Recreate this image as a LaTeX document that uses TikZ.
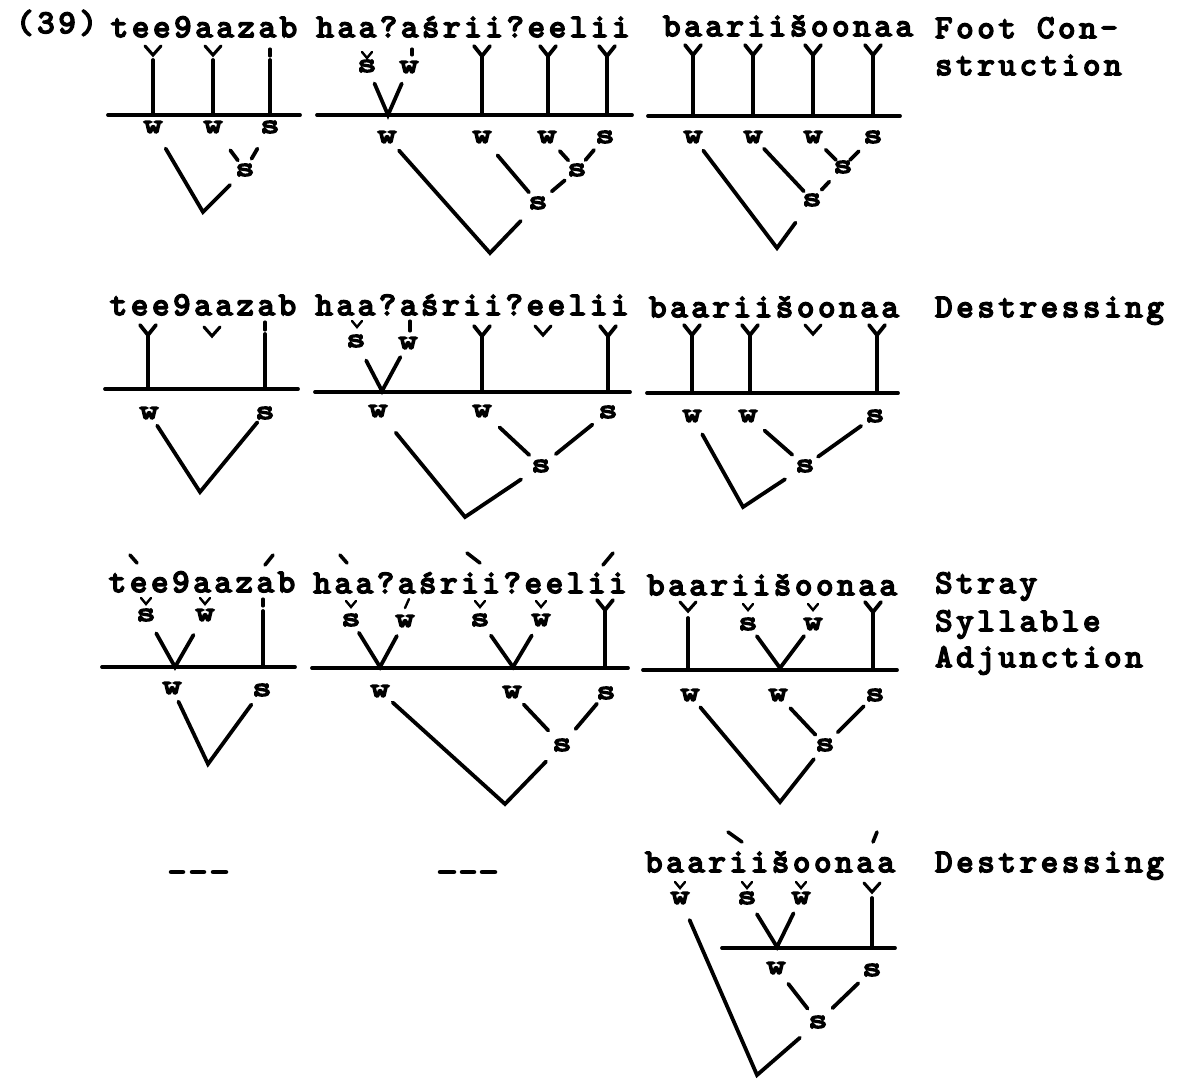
\documentclass[tikz,border=0pt]{standalone}
\usepackage{fontspec}
\newfontfamily\tw{lmmono10-regular.otf}[LetterSpace=11.5, FakeBold=5]
\newfontfamily\tl{lmmono10-regular.otf}[FakeBold=6, FakeStretch=1.35]
\newcommand\Ymk[3]{\draw[lnst] (#1-8,#2) -- (#1,#2+10) -- (#1+8,#2) (#1,#2+10) -- (#1,#3);}
\newcommand\Vmk[2]{\draw[mkst] (#1-8,#2) -- (#1,#2+9) -- (#1+8,#2);}
\newcommand\Cmk[2]{\draw[cvst] (#1-5,#2-3) -- (#1,#2+3) -- (#1+5,#2-3);}
\newcommand\Tmk[3]{\draw[mkst] (#1,#2) -- (#1,#3);}
\newcommand\Lmk[3]{\draw[lnst] (#1,#2) -- (#1,#3);}
\begin{document}
\begin{tikzpicture}[x=1pt,y=-1pt,
  lnst/.style={line width=3.8pt, line cap=round, line join=miter},
  mkst/.style={line width=3.1pt, line cap=round},
  cvst/.style={line width=2.4pt, line cap=round},
  accst/.style={line width=3.6pt, line cap=round},
  sh/.style 2 args={shorten <=#1pt, shorten >=#2pt},
  labst/.style={font={\tl\fontsize{27}{30}\selectfont}, inner sep=0pt},
  wrd/.style={font={\tw\fontsize{33}{38}\selectfont}, inner sep=0pt, anchor=base},
  side/.style={font={\tw\fontsize{33}{38}\selectfont}, inner sep=0pt, anchor=base west}]
\fill[white] (0,0) rectangle (1182,1080);
\useasboundingbox (0,0) rectangle (1182,1080);

% ---------------- Row 1: Foot Construction ----------------
\node[side] (n39) at (16,33) {(39)};
\node[wrd] (w1a) at (204,37) {tee9aazab};
\node[wrd] (w1b) at (473,37) {haa?aśrii?eelii};
\node[wrd] (w1c) at (788,36) {baariišoonaa};
\node[side] (fc1) at (935,38) {Foot Con-};
\node[side] (fc2) at (935,75) {struction};

% tree 1a
\Vmk{153}{46}\Vmk{213}{46}\Tmk{270}{49}{56}
\Lmk{153}{60}{115}\Lmk{213}{60}{115}\Lmk{270}{60}{115}
\draw[lnst] (108,115) -- (300,115);
\node[labst] (A1) at (153,127) {w};
\node[labst] (A2) at (213,127) {w};
\node[labst] (A3) at (270,127) {s};
\node[labst] (AP) at (245,170) {s};
\coordinate (AR) at (203,212);
\draw[lnst,sh={25}{21}] (A1.center) -- (AR) -- (AP.center);
\draw[lnst,sh={29}{12}] (A2.center) -- (AP.center);
\draw[lnst,sh={25}{13}] (A3.center) -- (AP.center);

% tree 1b
\node[labst] (B0s) at (367,66) {s}; \Cmk{367}{55}
\node[labst] (B0w) at (409,67) {w}; \Tmk{412}{49}{55}
\coordinate (BJ) at (388,115);
\draw[lnst,sh={19}{18}] (B0s.center) -- (BJ) -- (B0w.center);
\Ymk{482}{46}{115}\Ymk{548}{46}{115}\Ymk{607}{46}{115}
\draw[lnst] (317,115) -- (632,115);
\node[labst] (B1) at (387,137) {w};
\node[labst] (B2) at (482,137) {w};
\node[labst] (B3) at (547,137) {w};
\node[labst] (B4) at (605,137) {s};
\node[labst] (BQ1) at (577,170) {s};
\node[labst] (BQ2) at (538,203) {s};
\coordinate (BR) at (490,253);
\draw[lnst,sh={18}{25}] (B1.center) -- (BR) -- (BQ2.center);
\draw[lnst,sh={24}{14}] (B2.center) -- (BQ2.center);
\draw[lnst,sh={19}{13}] (B3.center) -- (BQ1.center);
\draw[lnst,sh={17}{13}] (B4.center) -- (BQ1.center);
\draw[lnst,sh={16}{18}] (BQ1.center) -- (BQ2.center);

% tree 1c
\Ymk{693}{45}{116}\Ymk{753}{45}{116}\Ymk{813}{45}{116}\Ymk{873}{45}{116}
\draw[lnst] (648,116) -- (900,116);
\node[labst] (C1) at (693,137) {w};
\node[labst] (C2) at (753,137) {w};
\node[labst] (C3) at (813,137) {w};
\node[labst] (C4) at (873,137) {s};
\node[labst] (CQ1) at (843,167) {s};
\node[labst] (CQ2) at (812,200) {s};
\coordinate (CR) at (777,248);
\draw[lnst,sh={17}{28}] (C1.center) -- (CR) -- (CQ2.center);
\draw[lnst,sh={16}{12}] (C2.center) -- (CQ2.center);
\draw[lnst,sh={18}{10}] (C3.center) -- (CQ1.center);
\draw[lnst,sh={20}{10}] (C4.center) -- (CQ1.center);
\draw[lnst,sh={20}{14}] (CQ1.center) -- (CQ2.center);

% ---------------- Row 2: Destressing ----------------
\node[wrd] (w2a) at (203,315) {tee9aazab};
\node[wrd] (w2b) at (472,315) {haa?aśrii?eelii};
\node[wrd] (w2c) at (774,317) {baariišoonaa};
\node[side] (ds1) at (935,317) {Destressing};

% tree 2a
\Ymk{148}{325}{389}\Vmk{212}{327}\Tmk{265}{322}{330}\Lmk{265}{334}{389}
\draw[lnst] (105,389) -- (298,389);
\node[labst] (D1) at (149,413) {w};
\node[labst] (D2) at (265,413) {s};
\coordinate (DR) at (200,492);
\draw[lnst,sh={15}{12}] (D1.center) -- (DR) -- (D2.center);

% tree 2b
\node[labst] (E0s) at (356,341) {s}; \Cmk{357}{324}
\node[labst] (E0w) at (408,343) {w}; \Tmk{410}{321}{331}
\coordinate (EJ) at (382,391);
\draw[lnst,sh={22}{16}] (E0s.center) -- (EJ) -- (E0w.center);
\Ymk{482}{326}{391}\Vmk{543}{326}\Ymk{608}{326}{391}
\draw[lnst] (315,392) -- (630,392);
\node[labst] (E1) at (378,411) {w};
\node[labst] (E2) at (482,411) {w};
\node[labst] (E3) at (608,412) {s};
\node[labst] (EQ) at (541,466) {s};
\coordinate (ER) at (465,517);
\draw[lnst,sh={28}{24}] (E1.center) -- (ER) -- (EQ.center);
\draw[lnst,sh={24}{16}] (E2.center) -- (EQ.center);
\draw[lnst,sh={20}{19}] (E3.center) -- (EQ.center);

% tree 2c
\Ymk{692}{325}{392}\Ymk{750}{325}{392}\Vmk{813}{325}\Ymk{877}{325}{392}
\draw[lnst] (647,393) -- (898,393);
\node[labst] (G1) at (692,416) {w};
\node[labst] (G2) at (748,416) {w};
\node[labst] (G3) at (875,416) {s};
\node[labst] (GQ) at (805,466) {s};
\coordinate (GR) at (743,507);
\draw[lnst,sh={21}{24}] (G1.center) -- (GR) -- (GQ.center);
\draw[lnst,sh={22}{17}] (G2.center) -- (GQ.center);
\draw[lnst,sh={17}{16}] (G3.center) -- (GQ.center);

% ---------------- Row 3: Stray Syllable Adjunction ----------------
\node[wrd] (w3a) at (202,592) {tee9aazab};
\node[wrd] (w3b) at (470,593) {haa?aśrii?eelii};
\node[wrd] (w3c) at (772,595) {baariišoonaa};
\node[side] (ss1) at (935,593) {Stray};
\node[side] (ss2) at (935,631) {Syllable};
\node[side] (ss3) at (935,667) {Adjunction};
\draw[accst] (130,555) -- (137,563);
\draw[accst] (273,555) -- (265,565);
\draw[accst] (340,555) -- (347,563);
\draw[accst] (467,553) -- (480,563);
\draw[accst] (613,553) -- (603,565);

% tree 3a
\node[labst] (H0s) at (146,615) {s}; \Cmk{146}{601}
\node[labst] (H0w) at (205,615) {w}; \Cmk{205}{601}
\coordinate (HJ) at (175,667);
\draw[lnst,sh={21}{23}] (H0s.center) -- (HJ) -- (H0w.center);
\Tmk{263}{599}{606}\Lmk{263}{611}{667}
\draw[lnst] (102,667) -- (295,667);
\node[labst] (H1) at (172,688) {w};
\node[labst] (H2) at (262,690) {s};
\coordinate (HR) at (208,764);
\draw[lnst,sh={15}{18}] (H1.center) -- (HR) -- (H2.center);

% tree 3b
\node[labst] (I0a) at (351,620) {s}; \Cmk{351}{604}
\node[labst] (I0b) at (405,621) {w}; \draw[cvst] (409,599) -- (405,608);
\node[labst] (I0c) at (480,620) {s}; \Cmk{480}{604}
\node[labst] (I0d) at (541,620) {w}; \Cmk{541}{604}
\coordinate (IJ1) at (380,667);
\coordinate (IJ2) at (513,667);
\draw[lnst,sh={15}{17}] (I0a.center) -- (IJ1) -- (I0b.center);
\draw[lnst,sh={19}{18}] (I0c.center) -- (IJ2) -- (I0d.center);
\Ymk{605}{600}{668}
\draw[lnst] (312,668) -- (628,668);
\node[labst] (I1) at (380,691) {w};
\node[labst] (I2) at (512,692) {w};
\node[labst] (I3) at (606,693) {s};
\node[labst] (IQ) at (562,745) {s};
\coordinate (IR) at (505,804);
\draw[lnst,sh={17}{23}] (I1.center) -- (IR) -- (IQ.center);
\draw[lnst,sh={17}{20}] (I2.center) -- (IQ.center);
\draw[lnst,sh={14}{21}] (I3.center) -- (IQ.center);

% tree 3c
\Vmk{688}{602}\Lmk{688}{618}{668}
\node[labst] (K0s) at (748,624) {s}; \Cmk{748}{607}
\node[labst] (K0w) at (813,624) {w}; \Cmk{813}{607}
\coordinate (KJ) at (780,668);
\draw[lnst,sh={15}{15}] (K0s.center) -- (KJ) -- (K0w.center);
\Ymk{873}{602}{668}
\draw[lnst] (643,670) -- (897,670);
\node[labst] (K1) at (690,695) {w};
\node[labst] (K2) at (778,695) {w};
\node[labst] (K3) at (875,695) {s};
\node[labst] (KQ) at (825,745) {s};
\coordinate (KR) at (780,802);
\draw[lnst,sh={16}{18}] (K1.center) -- (KR) -- (KQ.center);
\draw[lnst,sh={18}{14}] (K2.center) -- (KQ.center);
\draw[lnst,sh={16}{18}] (K3.center) -- (KQ.center);

% ---------------- Row 4: Destressing ----------------
\draw[lnst, line width=4.5pt] (171,872) -- (183,872) (192,872) -- (204,872) (213,872) -- (226,872);
\draw[lnst, line width=4.5pt] (440,872) -- (454,872) (462,872) -- (474,872) (482,872) -- (495,872);
\node[wrd] (w4c) at (770,872) {baariišoonaa};
\node[side] (ds2) at (935,872) {Destressing};
\draw[accst] (728,832) -- (742,842);
\draw[accst] (877,832) -- (873,842);
\node[labst] (L0a) at (680,898) {w}; \Cmk{680}{885}
\node[labst] (L0b) at (747,898) {s}; \Cmk{747}{885}
\node[labst] (L0c) at (801,898) {w}; \Cmk{801}{885}
\coordinate (LJ) at (777,947);
\draw[lnst,sh={19}{17}] (L0b.center) -- (LJ) -- (L0c.center);
\Vmk{872}{883}\Lmk{872}{898}{947}
\draw[lnst] (722,948) -- (895,948);
\node[labst] (L1) at (776,968) {w};
\node[labst] (L2) at (872,970) {s};
\node[labst] (LQ) at (818,1022) {s};
\coordinate (LR) at (757,1075);
\draw[lnst,sh={24}{24}] (L0a.center) -- (LR) -- (LQ.center);
\draw[lnst,sh={20}{17}] (L1.center) -- (LQ.center);
\draw[lnst,sh={19}{20}] (L2.center) -- (LQ.center);
\end{tikzpicture}
\end{document}
